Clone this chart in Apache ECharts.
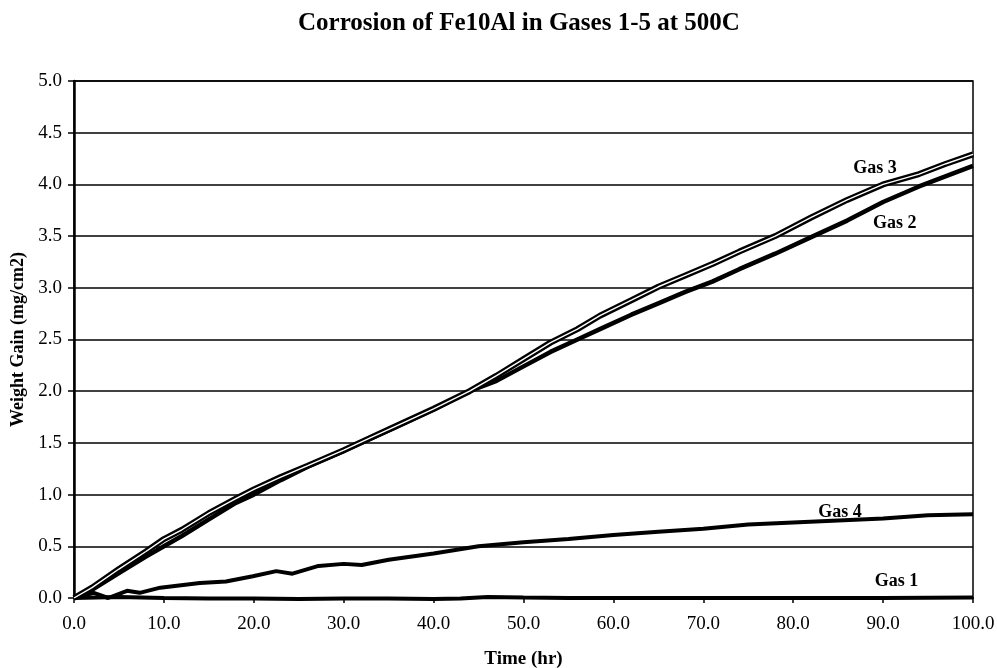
<!DOCTYPE html>
<html>
<head>
<meta charset="UTF-8">
<title>Corrosion of Fe10Al</title>
<script src="https://cdn.jsdelivr.net/npm/echarts@6/dist/echarts.min.js"></script>
<style>
body { margin: 0; background: #fff; }
#chart { width: 997px; height: 668px; }
</style>
</head>
<body>
<div id="chart"></div>
<script>
// time (hr) and weight gain (mg/cm2)
var gas3Time = [0, 2, 5, 8, 10, 12, 15, 18, 20, 23, 26, 30, 33, 36, 40, 44, 47, 50, 53, 56, 58.5, 62, 65, 68, 71, 74, 78, 82, 86, 90, 94, 97, 100];
var gas3Gain = [0, 0.10, 0.28, 0.45, 0.57, 0.66, 0.82, 0.96, 1.05, 1.17, 1.28, 1.43, 1.55, 1.67, 1.83, 2.00, 2.15, 2.31, 2.47, 2.60, 2.73, 2.88, 3.01, 3.12, 3.23, 3.35, 3.50, 3.68, 3.85, 4.00, 4.10, 4.20, 4.29];

var gas2Time = [0, 2, 5, 8, 10, 12, 15, 18, 20, 23, 26, 30, 33, 36, 40, 44, 47, 50, 53, 56, 58.5, 62, 65, 68, 71, 74, 78, 82, 86, 90, 94, 97, 100];
var gas2Gain = [0, 0.08, 0.24, 0.40, 0.50, 0.60, 0.76, 0.92, 1.00, 1.14, 1.27, 1.42, 1.54, 1.66, 1.82, 2.00, 2.10, 2.24, 2.38, 2.50, 2.60, 2.74, 2.85, 2.96, 3.06, 3.18, 3.33, 3.49, 3.65, 3.83, 3.98, 4.08, 4.18];

var gas4Time = [0, 2.2, 3.8, 5.9, 7.3, 9.6, 14, 16.9, 19.9, 22.5, 24.3, 27.2, 30, 32, 35, 40, 45, 50, 55, 60, 65, 70, 75, 80, 85, 90, 95, 100];
var gas4Gain = [0, 0.05, 0.00, 0.07, 0.05, 0.10, 0.145, 0.16, 0.21, 0.26, 0.235, 0.31, 0.33, 0.32, 0.37, 0.43, 0.50, 0.54, 0.57, 0.61, 0.64, 0.67, 0.71, 0.73, 0.75, 0.77, 0.80, 0.81];

var gas1Time = [0, 5, 10, 15, 20, 25, 30, 35, 40, 43, 46, 50, 55, 60, 70, 80, 90, 100];
var gas1Gain = [0, 0.01, 0.00, -0.005, -0.005, -0.01, -0.005, -0.005, -0.01, -0.005, 0.01, 0.005, 0.00, 0.00, 0.00, 0.00, 0.00, 0.005];

var yTicks = ['0.0', '0.5', '1.0', '1.5', '2.0', '2.5', '3.0', '3.5', '4.0', '4.5', '5.0'];
var xTicks = ['0.0', '10.0', '20.0', '30.0', '40.0', '50.0', '60.0', '70.0', '80.0', '90.0', '100.0'];

var serif = '"Liberation Serif", "Times New Roman", serif';

function pairs(t, v) {
    var out = [];
    for (var i = 0; i < t.length; i++) out.push([t[i], v[i]]);
    return out;
}

function tag(name, x, y) {
    return {
        symbol: 'circle', symbolSize: 0, silent: true,
        itemStyle: { color: 'rgba(0,0,0,0)' },
        label: { show: true, position: 'inside', formatter: name, color: '#000',
                 fontFamily: serif, fontWeight: 'bold', fontSize: 18 },
        data: [{ coord: [x, y] }]
    };
}

var chart = echarts.init(document.getElementById('chart'));
chart.setOption({
    animation: false,
    backgroundColor: '#fff',
    title: {
        text: 'Corrosion of Fe10Al in Gases 1-5 at 500C',
        left: 293, top: 6,
        textStyle: { fontFamily: serif, fontWeight: 'bold', fontSize: 25, color: '#000' }
    },
    grid: { left: 74, right: 24, top: 81, bottom: 70, show: true,
            containLabel: false, outerBoundsMode: 'none',
            borderColor: '#000', borderWidth: 1.5, backgroundColor: 'transparent' },
    xAxis: {
        type: 'value', min: 0, max: 100, interval: 10,
        name: 'Time (hr)', nameLocation: 'middle', nameGap: 52,
        nameTextStyle: { fontFamily: serif, fontWeight: 'bold', fontSize: 19, color: '#000' },
        axisLine: { lineStyle: { color: '#000', width: 2 } },
        axisTick: { show: true, inside: false, length: 5, lineStyle: { color: '#000', width: 1.5 } },
        axisLabel: { margin: 17, fontFamily: serif, fontSize: 19, color: '#000',
                     formatter: function (v) { return xTicks[Math.round(v / 10)]; } },
        splitLine: { show: false }
    },
    yAxis: {
        type: 'value', min: 0, max: 5, interval: 0.5,
        name: 'Weight Gain (mg/cm2)', nameLocation: 'middle', nameGap: 43,
        nameTextStyle: { fontFamily: serif, fontWeight: 'bold', fontSize: 18, color: '#000' },
        axisLine: { show: true, lineStyle: { color: '#000', width: 2.5 } },
        axisTick: { show: true, inside: false, length: 6, lineStyle: { color: '#000', width: 1.5 } },
        axisLabel: { margin: 12, fontFamily: serif, fontSize: 19, color: '#000',
                     formatter: function (v) { return yTicks[Math.round(v * 2)]; } },
        splitLine: { show: true, lineStyle: { color: '#000', width: 1.5 } }
    },
    series: [
        { name: 'Gas 1', type: 'line', showSymbol: false, clip: false, data: pairs(gas1Time, gas1Gain),
          lineStyle: { color: '#000', width: 4 }, markPoint: tag('Gas 1', 91.5, 0.16) },
        { name: 'Gas 4', type: 'line', showSymbol: false, data: pairs(gas4Time, gas4Gain),
          lineStyle: { color: '#000', width: 4 }, markPoint: tag('Gas 4', 85.2, 0.83) },
        { name: 'Gas 2', type: 'line', showSymbol: false, data: pairs(gas2Time, gas2Gain),
          lineStyle: { color: '#000', width: 4.5 }, markPoint: tag('Gas 2', 91.3, 3.62) },
        { name: 'Gas 3', type: 'line', showSymbol: false, data: pairs(gas3Time, gas3Gain),
          lineStyle: { color: '#000', width: 6 }, markPoint: tag('Gas 3', 89.1, 4.16) },
        { name: 'Gas 3 core', type: 'line', showSymbol: false, silent: true, data: pairs(gas3Time, gas3Gain),
          lineStyle: { color: '#fff', width: 1.4 } }
    ]
});
</script>
</body>
</html>
